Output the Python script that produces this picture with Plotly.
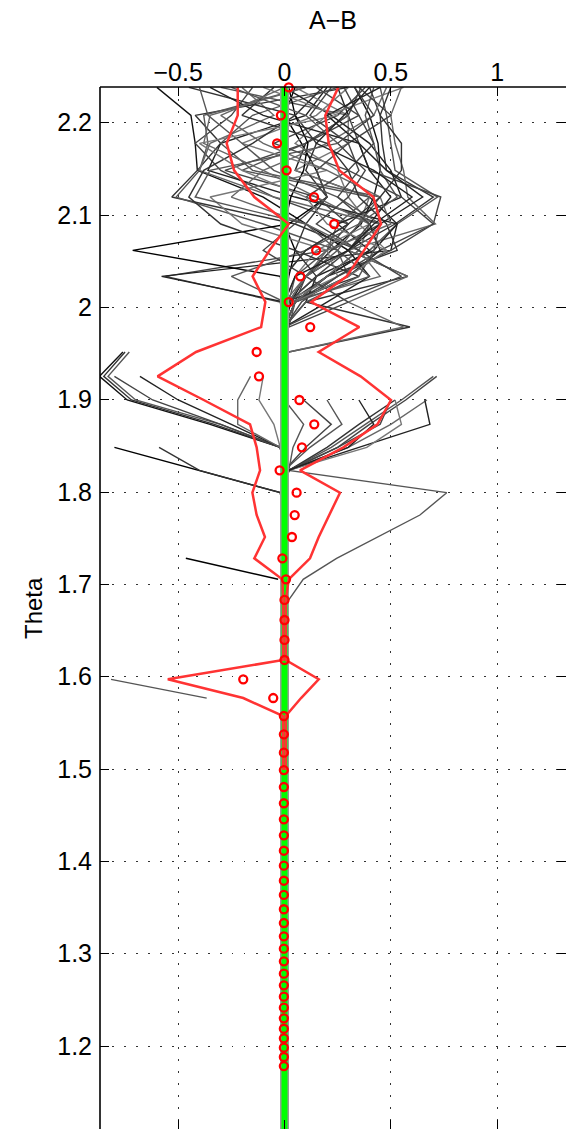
import plotly.graph_objects as go

# ---------------- data ----------------
theta = [2.2383, 2.2080, 2.1777, 2.1484, 2.1195, 2.0903, 2.0618, 2.0336, 2.0058, 1.9787,
         1.9517, 1.9253, 1.8997, 1.8733, 1.8484, 1.8235, 1.7993, 1.7751, 1.7513, 1.7282,
         1.7055, 1.6831, 1.6614, 1.6398, 1.6181, 1.5972, 1.5769, 1.5574, 1.5376, 1.5177,
         1.4989, 1.4805, 1.4629, 1.4455, 1.4282, 1.4115, 1.3953, 1.3790, 1.3636, 1.3481,
         1.3332, 1.3188, 1.3054, 1.2917, 1.2783, 1.2657, 1.2534, 1.2415, 1.2300, 1.2187,
         1.2083, 1.1982, 1.1881, 1.1783]

mean_ab = [0.020, -0.017, -0.035, 0.010, 0.139, 0.234, 0.149, 0.074, 0.020, 0.121,
           -0.131, -0.120, 0.070, 0.140, 0.082, -0.023, 0.057, 0.048, 0.035, -0.010,
           0.007, 0.000, 0.000, 0.000, 0.000, -0.194, -0.053, -0.003, -0.003, -0.003,
           -0.003, -0.003, -0.003, -0.003, -0.003, -0.003, -0.003, -0.003, -0.003, -0.003,
           -0.003, -0.003, -0.003, -0.003, -0.003, -0.003, -0.003, -0.003, -0.003, -0.003,
           -0.003, -0.003, -0.003, -0.003]

lower_ab = [-0.220, -0.220, -0.272, -0.237, -0.142, 0.020, -0.070, -0.150, -0.090, -0.110,
            -0.416, -0.597, -0.380, -0.162, -0.131, -0.115, -0.151, -0.131, -0.092, -0.142,
            -0.010, -0.006, -0.006, -0.006, -0.006, -0.549, -0.194, -0.006, -0.006, -0.006,
            -0.006]

upper_ab = [0.253, 0.192, 0.208, 0.258, 0.418, 0.454, 0.374, 0.293, 0.126, 0.352,
            0.161, 0.358, 0.501, 0.437, 0.277, 0.073, 0.261, 0.209, 0.161, 0.120,
            0.020, 0.006, 0.006, 0.006, 0.006, 0.161, 0.078, 0.006, 0.006, 0.006,
            0.006]

# individual realisations (values at the first theta levels; None = no value)
g01 = [-0.60, -0.44, -0.42, -0.41, -0.10, 0.10, 0.30, 0.10, 0.02, None, -0.76, -0.87, -0.74, -0.35, -0.02, 0.00, 0.00, 0.00, 0.00, 0.00, 0.00, 0.00]
g02 = [0.30, -0.42, -0.30, -0.41, -0.53, 0.05, 0.35, 0.20, 0.02, None, -0.75, -0.85, -0.72, -0.33, -0.02, 0.00, 0.00, 0.00, 0.00, 0.00, 0.00, 0.00]
g03 = [0.10, -0.38, -0.36, -0.40, -0.51, -0.10, 0.25, 0.30, 0.05, None, -0.73, -0.83, -0.70, -0.30, -0.02, 0.00, 0.00, 0.00, 0.00, 0.00, 0.00, 0.00]
g04 = [-0.15, -0.25, -0.42, -0.30, -0.05, 0.30, 0.20, -0.56, -0.02, 0.00, None, -0.80, -0.62, -0.30, -0.02, 0.00, 0.00, 0.00, 0.00, 0.00, 0.00, 0.00]
g05 = [0.20, 0.10, -0.30, -0.36, 0.05, 0.53, 0.50, -0.578, 0.00, 0.00, None, -0.68, -0.50, -0.25, -0.02, 0.00, 0.00, 0.00, 0.00, 0.00, 0.00, 0.00]
g06 = [0.05, 0.00, 0.08, 0.15, 0.20, 0.02, -0.714, -0.02, 0.00, 0.00, 0.00, 0.00, 0.00, None, -0.80, -0.40, -0.02, 0.00, 0.00, 0.00, 0.00, 0.00]
g07 = [0.33, 0.40, 0.44, 0.45, 0.42, 0.36, 0.22, 0.10, 0.03, 0.00, 0.00, 0.00, 0.00, 0.00, 0.00, 0.00, 0.00, 0.00, 0.00, 0.00, 0.00, 0.00]
g08 = [0.45, 0.48, 0.50, 0.52, 0.72, 0.53, 0.40, 0.20, 0.05, 0.02, None, 0.70, 0.55, 0.38, 0.22, 0.02, 0.00, 0.00, 0.00, 0.00, 0.00, 0.00]
g09 = [0.40, 0.45, 0.46, 0.48, 0.70, 0.52, 0.30, 0.58, 0.10, 0.59, 0.02, None, 0.52, 0.35, 0.20, 0.02, 0.00, 0.00, 0.00, 0.00, 0.00, 0.00]
g10 = [0.36, 0.30, 0.35, 0.40, 0.735, 0.70, 0.45, 0.25, 0.05, 0.00, None, 0.716, 0.57, 0.40, 0.25, 0.02, 0.00, 0.00, 0.00, 0.00, 0.00, 0.00]
g11 = [0.55, 0.50, 0.52, 0.56, 0.58, 0.71, 0.30, 0.58, 0.30, 0.56, 0.02, None, 0.67, 0.50, 0.30, 0.02, 0.00, 0.00, 0.00, 0.00, 0.00, 0.00]
g12 = [0.25, 0.30, 0.10, 0.05, 0.40, 0.53, 0.42, 0.15, 0.10, 0.00, 0.00, None, 0.66, 0.684, 0.35, 0.02, 0.00, 0.00, 0.00, 0.00, 0.00, 0.00]
g13 = [0.05, 0.30, 0.30, 0.05, 0.40, 0.35, 0.48, 0.30, 0.05, 0.00, 0.00, None, 0.52, 0.55, 0.387, 0.02, 0.00, 0.00, 0.00, 0.00, 0.00, 0.00]
g14 = [-0.30, 0.30, 0.10, -0.20, 0.40, 0.25, 0.20, 0.05, 0.02, 0.00, 0.00, None, 0.20, 0.27, 0.12, 0.00, 0.00, 0.00, 0.00, 0.00, 0.00, 0.00]
g15 = [0.38, 0.25, -0.05, 0.30, 0.10, 0.45, 0.22, 0.10, 0.05, 0.00, 0.00, None, 0.09, 0.22, 0.10, 0.00, 0.00, 0.00, 0.00, 0.00, 0.00, 0.00]
g16 = [-0.20, -0.05, -0.35, -0.40, -0.05, 0.45, 0.30, 0.10, 0.00, 0.00, None, -0.16, -0.22, -0.22, -0.02, 0.00, 0.00, 0.00, 0.00, 0.00, 0.00, 0.00]
g17 = [0.56, 0.20, 0.05, 0.25, 0.30, 0.40, 0.15, 0.05, 0.00, 0.00, None, -0.10, -0.12, -0.05, -0.02, 0.00, 0.00, 0.00, 0.00, 0.00, 0.00, 0.00]
g18 = [-0.45, 0.05, 0.15, 0.10, 0.20, 0.10, 0.05, 0.35, 0.00, 0.00, 0.00, 0.00, 0.00, None, -0.59, -0.40, -0.02, 0.00, 0.00, 0.00, 0.00, 0.00]
g19 = [0.25, -0.15, -0.30, -0.15, 0.45, 0.35, 0.25, 0.10, 0.02, 0.00, 0.00, 0.00, 0.00, 0.09, 0.04, 0.02, 0.763, 0.637, 0.44, 0.245, 0.088, 0.02]
g20 = [0.00, 0.22, 0.40, 0.50, 0.55, 0.25, 0.40, 0.20, 0.05, 0.00, 0.00, 0.00, 0.00, 0.00, 0.00, 0.00, 0.00, 0.00, 0.00, 0.00, 0.00, 0.00]
g21 = [0.15, 0.35, 0.10, -0.28, 0.15, 0.30, 0.10, 0.00, 0.00, 0.00, 0.00, 0.00, 0.00, 0.00, 0.00, 0.00]
g22 = [0.02, 0.05, 0.11, 0.09, 0.03, 0.00, 0.05, 0.02, 0.00, 0.00, 0.00, 0.00, 0.00, 0.00, 0.00, 0.00]
g23 = [0.48, 0.42, 0.20, -0.10, -0.25, 0.10, 0.35, 0.45, 0.02, 0.00]
g24 = [-0.05, -0.20, 0.20, 0.30, 0.35, 0.48, 0.53, 0.20, 0.05, 0.00]
g25 = [0.30, 0.15, -0.20, 0.20, -0.35, -0.20, 0.20, 0.25, 0.00, 0.00]
g26 = [0.42, 0.38, 0.42, 0.45, 0.53, 0.35, 0.10, -0.25, 0.00, 0.00]
g27 = [0.35, 0.50, 0.30, 0.15, 0.20, 0.05, -0.10, 0.10, 0.30, 0.02]
g28 = [-0.35, -0.10, 0.35, 0.40, 0.50, 0.40, 0.45, 0.30, 0.05, 0.00]
g29 = [0.10, -0.35, -0.38, -0.10, 0.15, 0.40, 0.35, 0.20, 0.05, 0.00]
g30 = [0.28, 0.35, 0.42, 0.30, 0.55, 0.70, 0.50, 0.25, 0.08, 0.00]
g31 = [-0.40, -0.36, -0.20, -0.05, 0.25, 0.45, 0.42, 0.35, 0.10, 0.00]
g32 = [0.18, 0.05, -0.15, -0.38, -0.45, -0.30, 0.05, 0.15, 0.02, 0.00]
g33 = [0.45, 0.20, 0.35, 0.48, 0.65, 0.45, 0.30, 0.40, 0.20, 0.00]
g34 = [-0.10, 0.25, -0.40, -0.20, 0.10, 0.20, 0.48, 0.30, 0.05, 0.00]
g35 = [0.33, 0.42, 0.25, 0.38, 0.30, 0.15, 0.35, 0.55, 0.25, 0.00]
g36 = [0.00, -0.30, -0.10, 0.20, 0.45, 0.50, 0.20, 0.10, 0.02, 0.00]
g37 = [0.50, 0.45, 0.55, 0.55, 0.45, 0.30, 0.10, 0.00, 0.00, 0.00]
g38 = [-0.25, 0.10, 0.25, -0.35, -0.42, 0.10, 0.25, 0.40, 0.05, 0.00]
g39 = [0.22, 0.12, 0.30, 0.35, 0.25, 0.40, 0.30, 0.15, 0.02, 0.00, 0.00, None, 0.50, 0.45, 0.25, 0.02, 0.00]
g40 = [0.40, 0.28, 0.15, 0.42, 0.60, 0.42, 0.30, 0.05, 0.00, 0.00, 0.00, None, 0.35, 0.42, 0.30, 0.02, 0.00]

# short isolated segments
seg1_theta = [1.7282, 1.7055]
seg1_x = [-0.464, -0.030]
seg2_theta = [1.5972, 1.5769]
seg2_x = [-0.816, -0.366]

ref_theta = [1.05, 2.30]
ref_x = [0.0, 0.0]

x_ticks = [-0.5, 0, 0.5, 1]
x_ticktext = ["\u22120.5", "0", "0.5", "1"]
y_ticks = [1.2, 1.3, 1.4, 1.5, 1.6, 1.7, 1.8, 1.9, 2.0, 2.1, 2.2]
y_ticktext = ["1.2", "1.3", "1.4", "1.5", "1.6", "1.7", "1.8", "1.9", "2", "2.1", "2.2"]

# ---------------- figure ----------------
gray_lines = [g01, g02, g03, g04, g05, g06, g07, g08, g09, g10, g11, g12, g13, g14,
              g15, g16, g17, g18, g19, g20, g21, g22, g23, g24, g25, g26, g27, g28,
              g29, g30, g31, g32, g33, g34, g35, g36, g37, g38, g39, g40]
gray_cols = ["#111111", "#333333", "#555555", "#444444", "#222222", "#000000", "#111111",
             "#555555", "#333333", "#444444", "#666666", "#222222", "#777777", "#555555",
             "#444444", "#666666", "#777777", "#333333", "#555555", "#222222", "#444444",
             "#000000", "#666666", "#333333", "#777777", "#555555", "#444444", "#222222",
             "#666666", "#444444", "#555555", "#333333", "#222222", "#777777", "#444444",
             "#666666", "#333333", "#555555", "#444444", "#222222"]

fig = go.Figure()

for xs, c in zip(gray_lines, gray_cols):
    fig.add_trace(go.Scatter(x=xs, y=theta[:len(xs)], mode="lines",
                             line=dict(color=c, width=1.4), hoverinfo="skip",
                             connectgaps=False, showlegend=False))
fig.add_trace(go.Scatter(x=seg1_x, y=seg1_theta, mode="lines",
                         line=dict(color="#000000", width=1.5), showlegend=False))
fig.add_trace(go.Scatter(x=seg2_x, y=seg2_theta, mode="lines",
                         line=dict(color="#555555", width=1.3), showlegend=False))

# gray core + green reference
fig.add_trace(go.Scatter(x=ref_x, y=ref_theta, mode="lines",
                         line=dict(color="#999999", width=9), showlegend=False))
fig.add_trace(go.Scatter(x=ref_x, y=ref_theta, mode="lines",
                         line=dict(color="#00ff00", width=6), showlegend=False))

# red bounds
fig.add_trace(go.Scatter(x=lower_ab, y=theta[:len(lower_ab)], mode="lines",
                         line=dict(color="#ff3333", width=2.5), showlegend=False))
fig.add_trace(go.Scatter(x=upper_ab, y=theta[:len(upper_ab)], mode="lines",
                         line=dict(color="#ff3333", width=2.5), showlegend=False))
# red mean circles
fig.add_trace(go.Scatter(x=mean_ab, y=theta, mode="markers", cliponaxis=False,
                         marker=dict(symbol="circle-open", color="#ff0000", size=8,
                                     line=dict(width=2.3, color="#ff0000")),
                         showlegend=False))

font_family = "Liberation Sans, Arial, sans-serif"
axis_common = dict(ticks="inside", ticklen=9, tickwidth=1, tickcolor="#000000",
                   showline=False, mirror="ticks", zeroline=False,
                   showgrid=True, gridcolor="#333333", gridwidth=1,
                   griddash="1.5px,10.5px",
                   tickfont=dict(family=font_family, size=25, color="#000000"))

fig.update_layout(
    width=566, height=1129,
    margin=dict(l=100, r=0, t=87, b=0),
    plot_bgcolor="white", paper_bgcolor="white",
    xaxis=dict(range=[-0.8678, 1.3241], side="top", tickvals=x_ticks,
               ticktext=x_ticktext, **axis_common),
    yaxis=dict(range=[1.1101, 2.2387], tickvals=y_ticks, ticktext=y_ticktext,
               ticklabelstandoff=7, **axis_common),
    shapes=[
        dict(type="line", xref="paper", yref="paper", x0=0, x1=0, y0=0, y1=1,
             line=dict(color="#000000", width=1.6)),
        dict(type="line", xref="paper", yref="paper", x0=0, x1=1, y0=1, y1=1,
             line=dict(color="#000000", width=1.6)),
    ],
    annotations=[
        dict(text="A\u2212B", xref="paper", yref="paper", x=0.5, y=1.0643,
             xanchor="center", yanchor="middle", showarrow=False,
             font=dict(family=font_family, size=25, color="#000000")),
        dict(text="Theta", xref="paper", yref="paper", x=-0.1438, y=0.50,
             xanchor="center", yanchor="middle", showarrow=False, textangle=-90,
             font=dict(family=font_family, size=24, color="#000000")),
    ],
)

fig.write_html("out.html", config={"displayModeBar": False},
               post_script="document.body.style.margin='0px';")
